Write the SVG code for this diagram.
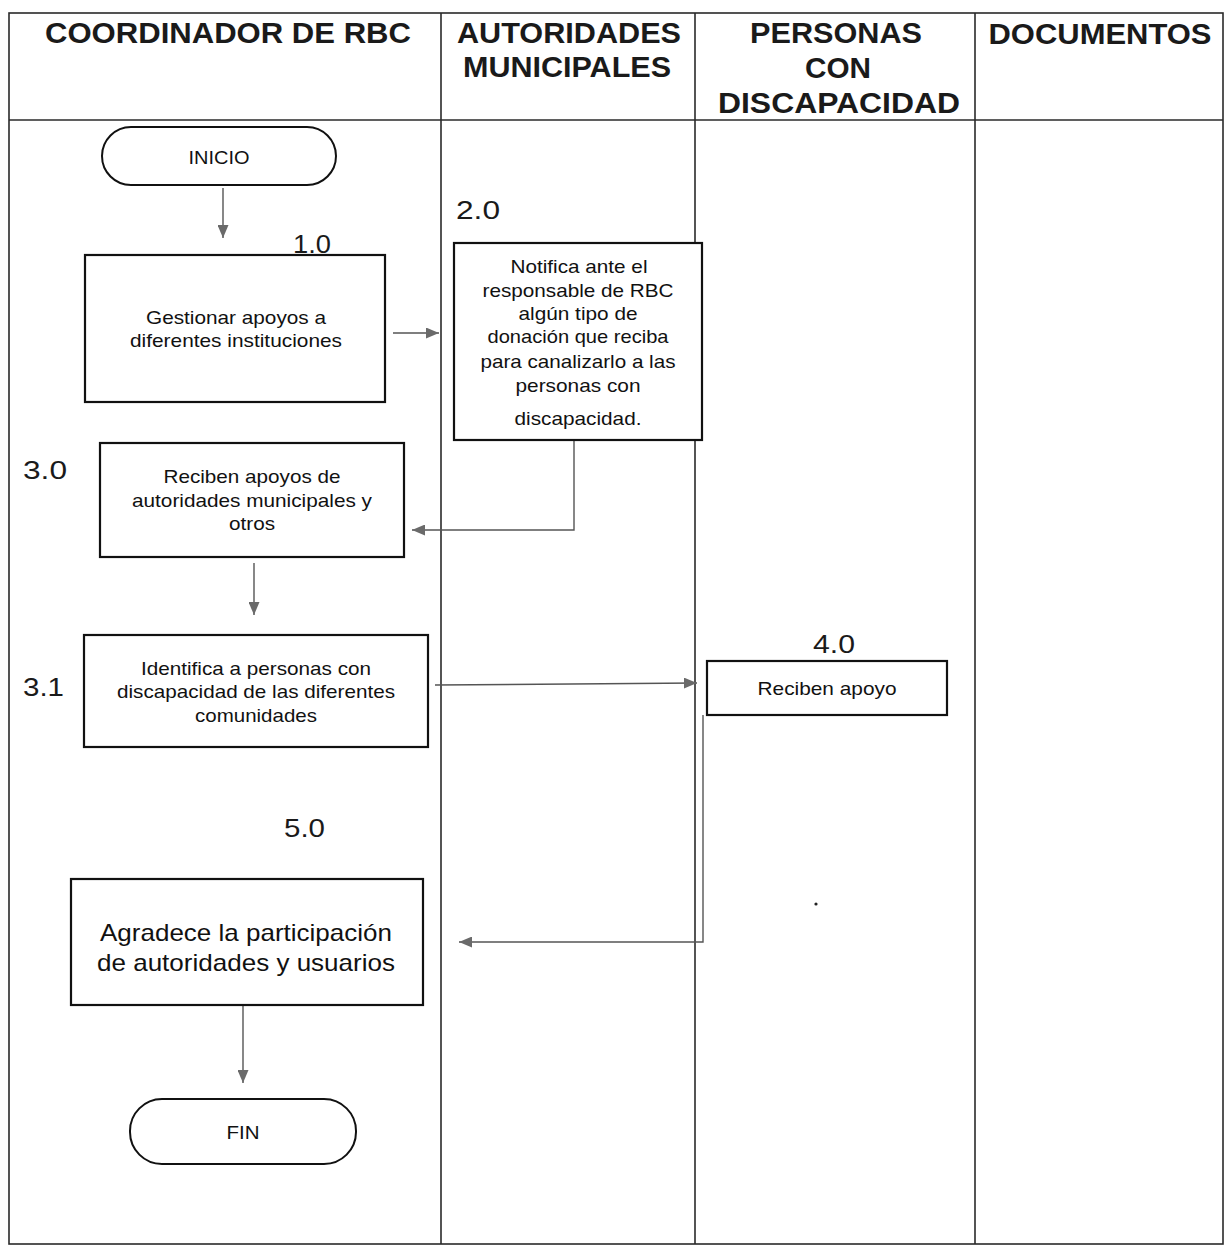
<svg xmlns="http://www.w3.org/2000/svg" width="1231" height="1248" viewBox="0 0 1231 1248">
  <defs>
    <style>
      .frame { fill: none; stroke: #2a2a2a; stroke-width: 1.6; }
      .hdr { font-family: "Liberation Sans", Arial, sans-serif; font-weight: bold; font-size: 29px; fill: #1a1a1a; text-anchor: middle; }
      .box { fill: #ffffff; stroke: #111111; stroke-width: 2.2; }
      .term { fill: #ffffff; stroke: #111111; stroke-width: 2; }
      .t { font-family: "Liberation Sans", Arial, sans-serif; font-size: 19px; fill: #111111; text-anchor: middle; }
      .tb { font-family: "Liberation Sans", Arial, sans-serif; font-size: 24px; fill: #111111; text-anchor: middle; }
      .num { font-family: "Liberation Sans", Arial, sans-serif; font-size: 25px; fill: #1a1a1a; }
      .conn { fill: none; stroke: #555555; stroke-width: 1.4; marker-end: url(#arr); }
    </style>
    <marker id="arr" viewBox="0 0 13 11" refX="13" refY="5.5" markerWidth="13" markerHeight="11" markerUnits="userSpaceOnUse" orient="auto">
      <path d="M0,0 L13,5.5 L0,11 Z" fill="#6a6a6a"/>
    </marker>
  </defs>
  <rect width="1231" height="1248" fill="#ffffff"/>

  <g id="table">
    <rect class="frame" x="9" y="13" width="1214" height="1231"/>
    <line class="frame" x1="9" y1="120" x2="1223" y2="120"/>
    <line class="frame" x1="441" y1="13" x2="441" y2="1244"/>
    <line class="frame" x1="695" y1="13" x2="695" y2="1244"/>
    <line class="frame" x1="975" y1="13" x2="975" y2="1244"/>
    <text class="hdr" x="228" y="43" textLength="366" lengthAdjust="spacingAndGlyphs">COORDINADOR DE RBC</text>
    <text class="hdr" x="569" y="43" textLength="224" lengthAdjust="spacingAndGlyphs">AUTORIDADES</text>
    <text class="hdr" x="567" y="77" textLength="208" lengthAdjust="spacingAndGlyphs">MUNICIPALES</text>
    <text class="hdr" x="836" y="43" textLength="172" lengthAdjust="spacingAndGlyphs">PERSONAS</text>
    <text class="hdr" x="838" y="78" textLength="66" lengthAdjust="spacingAndGlyphs">CON</text>
    <text class="hdr" x="839" y="113" textLength="242" lengthAdjust="spacingAndGlyphs">DISCAPACIDAD</text>
    <text class="hdr" x="1100" y="44" textLength="223" lengthAdjust="spacingAndGlyphs">DOCUMENTOS</text>
  </g>

  <g id="connectors">
    <line class="conn" x1="223" y1="188" x2="223" y2="238"/>
    <line class="conn" x1="393" y1="333" x2="439" y2="333"/>
    <polyline class="conn" points="574,441 574,530 412,530"/>
    <line class="conn" x1="254" y1="563" x2="254" y2="615"/>
    <line class="conn" x1="435" y1="685" x2="697" y2="683"/>
    <polyline class="conn" points="703,715 703,942 459,942"/>
    <line class="conn" x1="243" y1="1006" x2="243" y2="1083"/>
  </g>

  <g id="inicio">
    <rect class="term" x="102" y="127" width="234" height="58" rx="29" ry="29"/>
    <text class="t" x="219" y="164" textLength="61" lengthAdjust="spacingAndGlyphs">INICIO</text>
  </g>

  <g id="step-1-0">
    <text class="num" x="293" y="253" textLength="38" lengthAdjust="spacingAndGlyphs">1.0</text>
    <rect class="box" x="85" y="255" width="300" height="147"/>
    <text class="t" x="236" y="324" textLength="180" lengthAdjust="spacingAndGlyphs">Gestionar apoyos a</text>
    <text class="t" x="236" y="347" textLength="212" lengthAdjust="spacingAndGlyphs">diferentes instituciones</text>
  </g>

  <g id="step-2-0">
    <text class="num" x="456" y="219" textLength="44" lengthAdjust="spacingAndGlyphs">2.0</text>
    <rect class="box" x="454" y="243" width="248" height="197"/>
    <text class="t" x="579" y="273" textLength="137" lengthAdjust="spacingAndGlyphs">Notifica ante el</text>
    <text class="t" x="578" y="297" textLength="191" lengthAdjust="spacingAndGlyphs">responsable de RBC</text>
    <text class="t" x="578" y="320" textLength="119" lengthAdjust="spacingAndGlyphs">algún tipo de</text>
    <text class="t" x="578" y="343" textLength="181" lengthAdjust="spacingAndGlyphs">donación que reciba</text>
    <text class="t" x="578" y="368" textLength="195" lengthAdjust="spacingAndGlyphs">para canalizarlo a las</text>
    <text class="t" x="578" y="392" textLength="125" lengthAdjust="spacingAndGlyphs">personas con</text>
    <text class="t" x="578" y="425" textLength="127" lengthAdjust="spacingAndGlyphs">discapacidad.</text>
  </g>

  <g id="step-3-0">
    <text class="num" x="23" y="479" textLength="44" lengthAdjust="spacingAndGlyphs">3.0</text>
    <rect class="box" x="100" y="443" width="304" height="114"/>
    <text class="t" x="252" y="483" textLength="177" lengthAdjust="spacingAndGlyphs">Reciben apoyos de</text>
    <text class="t" x="252" y="507" textLength="240" lengthAdjust="spacingAndGlyphs">autoridades municipales y</text>
    <text class="t" x="252" y="530" textLength="46" lengthAdjust="spacingAndGlyphs">otros</text>
  </g>

  <g id="step-3-1">
    <text class="num" x="23" y="696" textLength="41" lengthAdjust="spacingAndGlyphs">3.1</text>
    <rect class="box" x="84" y="635" width="344" height="112"/>
    <text class="t" x="256" y="675" textLength="230" lengthAdjust="spacingAndGlyphs">Identifica a personas con</text>
    <text class="t" x="256" y="698" textLength="278" lengthAdjust="spacingAndGlyphs">discapacidad de las diferentes</text>
    <text class="t" x="256" y="722" textLength="122" lengthAdjust="spacingAndGlyphs">comunidades</text>
  </g>

  <g id="step-4-0">
    <text class="num" x="813" y="653" textLength="42" lengthAdjust="spacingAndGlyphs">4.0</text>
    <rect class="box" x="707" y="661" width="240" height="54"/>
    <text class="t" x="827" y="695" textLength="139" lengthAdjust="spacingAndGlyphs">Reciben apoyo</text>
  </g>

  <circle id="dot" cx="816" cy="904" r="1.6" fill="#222222"/>

  <g id="step-5-0">
    <text class="num" x="284" y="837" textLength="41" lengthAdjust="spacingAndGlyphs">5.0</text>
    <rect class="box" x="71" y="879" width="352" height="126"/>
    <text class="tb" x="246" y="941" textLength="292" lengthAdjust="spacingAndGlyphs">Agradece la participación</text>
    <text class="tb" x="246" y="971" textLength="298" lengthAdjust="spacingAndGlyphs">de autoridades y usuarios</text>
  </g>

  <g id="fin">
    <rect class="term" x="130" y="1099" width="226" height="65" rx="32" ry="32"/>
    <text class="t" x="243" y="1139" textLength="33" lengthAdjust="spacingAndGlyphs">FIN</text>
  </g>
</svg>
